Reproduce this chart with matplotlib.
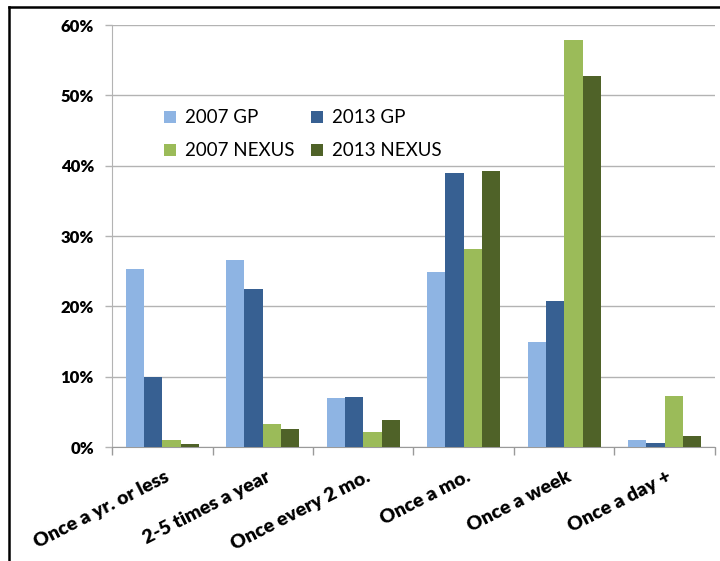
import matplotlib.pyplot as plt
from matplotlib.lines import Line2D
from matplotlib.ticker import FuncFormatter
import numpy as np

plt.rcParams['font.family'] = ['Lato', 'DejaVu Sans']

# categories and series (percent)
categories = ['Once a yr. or less', '2-5 times a year', 'Once every 2 mo.',
              'Once a mo.', 'Once a week', 'Once a day +']
gp_2007 = [25.3, 26.6, 7.0, 24.9, 14.9, 1.0]
gp_2013 = [10.0, 22.4, 7.1, 39.0, 20.8, 0.5]
nexus_2007 = [1.0, 3.3, 2.1, 28.2, 57.9, 7.3]
nexus_2013 = [0.4, 2.6, 3.8, 39.2, 52.8, 1.5]

series = [('2007 GP', gp_2007, '#8EB4E3'),
          ('2013 GP', gp_2013, '#376092'),
          ('2007 NEXUS', nexus_2007, '#9BBB59'),
          ('2013 NEXUS', nexus_2013, '#4F6228')]

fig = plt.figure(figsize=(7.2, 5.61), dpi=100)
ax = fig.add_axes([0.1556, 0.2032, 0.8374, 0.7522])

x = np.arange(len(categories))
w = 0.182
bars = []
for i, (name, vals, col) in enumerate(series):
    bars.append(ax.bar(x + (i - 1.5) * w, vals, width=w, color=col, label=name, zorder=3))

ax.set_xlim(-0.5, len(categories) - 0.5)
ax.set_ylim(0, 60)
ax.set_yticks(range(0, 61, 10))
ax.yaxis.set_major_formatter(FuncFormatter(lambda v, p: '%d%%' % v))
ax.grid(axis='y', color='#B3B3B3', linewidth=1, zorder=0)

# category boundary ticks
ax.set_xticks(np.arange(-0.5, len(categories), 1.0))
ax.set_xticklabels([])
ax.tick_params(axis='x', length=6, color='#9A9A9A', width=1)
ax.tick_params(axis='y', length=5, color='#B3B3B3', width=1, labelsize=12, pad=8)
for lab in ax.get_yticklabels():
    lab.set_fontweight('heavy')

for i, c in enumerate(categories):
    ax.text(i + 0.02, -3.0, c, rotation=27, ha='right', va='top',
            rotation_mode='anchor', fontsize=14, fontweight='heavy')

for s in ['top', 'right']:
    ax.spines[s].set_visible(False)
ax.spines['left'].set_color('#B3B3B3')
ax.spines['bottom'].set_color('#9A9A9A')

# legend filled row by row: GP on first row, NEXUS on second
order = [0, 2, 1, 3]
ax.legend([bars[k] for k in order], [series[k][0] for k in order],
          loc='upper left', bbox_to_anchor=(0.086, 0.80), ncol=2, frameon=False,
          fontsize=13.5, handlelength=0.65, handleheight=0.65, handletextpad=0.45,
          columnspacing=0.9, labelspacing=0.85, borderaxespad=0, borderpad=0)

# page border (top and left)
fig.add_artist(Line2D([9 / 720, 1], [1 - 7 / 561, 1 - 7 / 561], color='black', linewidth=1.8))
fig.add_artist(Line2D([9 / 720, 9 / 720], [0, 1 - 7 / 561], color='black', linewidth=1.8))

fig.savefig('out.png', dpi=100)
